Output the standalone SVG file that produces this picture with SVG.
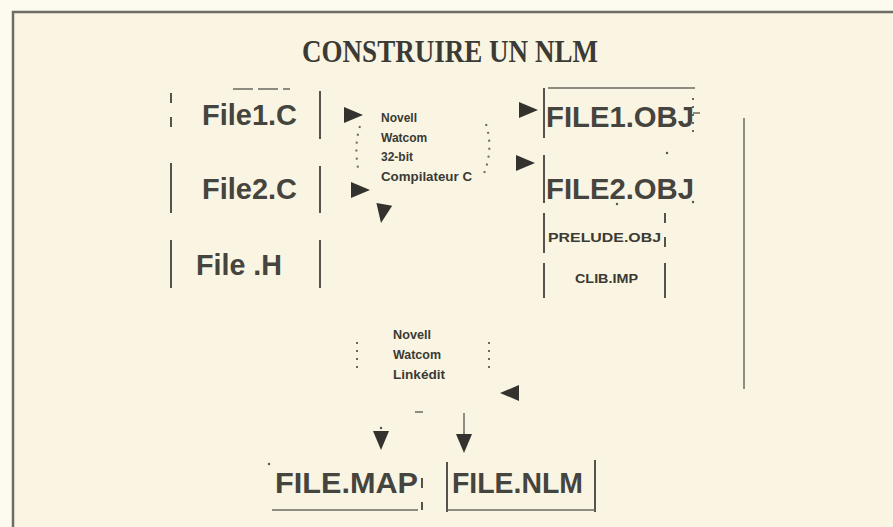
<svg xmlns="http://www.w3.org/2000/svg" width="893" height="527" viewBox="0 0 893 527">
<style>
.bg{fill:#faf5e2}
.frame{stroke:#6e6c64;stroke-width:2.5;fill:none}
.big{font-family:"Liberation Sans",Arial,sans-serif;font-size:29px;font-weight:bold;fill:#45443e}
.small{font-family:"Liberation Sans",Arial,sans-serif;font-size:12px;font-weight:bold;fill:#3b3a35}
.title{font-family:"Liberation Serif","Times New Roman",serif;font-size:32px;font-weight:bold;fill:#3b3a35}
.bar{stroke:#55534c;stroke-width:2;fill:none}
.thin{stroke:#6a6860;stroke-width:1.5;fill:none}
.dot{stroke:#6a6860;stroke-width:2;fill:none;stroke-dasharray:2 6}
.dash{stroke:#55534c;stroke-width:2;fill:none;stroke-dasharray:10 14}
.ah{fill:#33322e}
</style>
<defs>
<path id="arrow" d="M0,0 L-19,-8 L-19,8 Z"/>
</defs>
<rect width="893" height="527" fill="#fdfbef"/>
<rect x="13" y="12" width="880" height="515" class="bg"/>
<path class="frame" d="M13,527 V12 H893"/>
<text class="title" x="450" y="62" text-anchor="middle" textLength="296" lengthAdjust="spacingAndGlyphs">CONSTRUIRE UN NLM</text>

<g id="file1c">
<path class="dash" d="M171,93 V139"/>
<path class="bar" d="M320,91 V139"/>
<path class="thin" d="M233,89 H290" stroke-dasharray="20 5"/>
<text class="big" x="202" y="125" textLength="95" lengthAdjust="spacingAndGlyphs">File1.C</text>
</g>
<g id="file2c">
<path class="bar" d="M171,163 V213"/>
<path class="bar" d="M320,166 V213"/>
<text class="big" x="202" y="199" textLength="95" lengthAdjust="spacingAndGlyphs">File2.C</text>
</g>
<g id="fileh">
<path class="bar" d="M171,240 V288"/>
<path class="bar" d="M320,240 V288"/>
<text class="big" x="196" y="275" textLength="86" lengthAdjust="spacingAndGlyphs">File .H</text>
</g>

<g id="compiler">
<path class="dot" d="M360,126 Q354,145 358,168"/>
<path class="dot" d="M486,124 Q494,150 483,176"/>
<text class="small" x="381" y="122">Novell</text>
<text class="small" x="381" y="142">Watcom</text>
<text class="small" x="381" y="161">32-bit</text>
<text class="small" x="381" y="181" textLength="91" lengthAdjust="spacingAndGlyphs">Compilateur C</text>
</g>

<g id="file1obj">
<path class="bar" d="M544,88 V138"/>
<path class="thin" d="M548,88 H695"/>
<path class="dot" d="M693,98 V138" stroke-dasharray="2 4"/>
<path class="thin" d="M693,113 H700"/>
<text class="big" x="546" y="127" textLength="148" lengthAdjust="spacingAndGlyphs">FILE1.OBJ</text>
</g>
<g id="file2obj">
<path class="bar" d="M544,155 V203"/>
<circle cx="667" cy="153" r="1.2" fill="#55534c"/>
<circle cx="617" cy="204" r="1.2" fill="#55534c"/>
<circle cx="693" cy="202" r="1.2" fill="#55534c"/>
<text class="big" x="546" y="199" textLength="148" lengthAdjust="spacingAndGlyphs">FILE2.OBJ</text>
</g>
<g id="preludeobj">
<path class="bar" d="M544,213 V253"/>
<path class="dash" d="M665,213 V252" stroke-dasharray="14 4"/>
<text class="small" x="548" y="242" textLength="113" lengthAdjust="spacingAndGlyphs">PRELUDE.OBJ</text>
</g>
<g id="clibimp">
<path class="bar" d="M544,263 V298"/>
<path class="bar" d="M665,263 V298"/>
<text class="small" x="575" y="283" textLength="63" lengthAdjust="spacingAndGlyphs">CLIB.IMP</text>
</g>

<g id="linker">
<path class="dot" d="M357,342 V372" stroke-dasharray="2 5"/>
<path class="dot" d="M489,342 V373" stroke-dasharray="2 5"/>
<text class="small" x="393" y="339" textLength="38" lengthAdjust="spacingAndGlyphs">Novell</text>
<text class="small" x="393" y="359" textLength="48" lengthAdjust="spacingAndGlyphs">Watcom</text>
<text class="small" x="393" y="379" textLength="52" lengthAdjust="spacingAndGlyphs">Linkédit</text>
</g>

<g id="filemap">
<circle cx="269" cy="464" r="1.2" fill="#55534c"/>
<path class="thin" d="M272,510 H418"/>
<path class="dash" d="M422,478 V510" stroke-dasharray="20 6"/>
<text class="big" x="275" y="493" font-size="27" textLength="143" lengthAdjust="spacingAndGlyphs">FILE.MAP</text>
</g>
<g id="filenlm">
<path class="bar" d="M447,462 V512"/>
<path class="bar" d="M595,460 V512"/>
<path class="thin" d="M447,510 H595"/>
<text class="big" x="452" y="493" font-size="27" textLength="131" lengthAdjust="spacingAndGlyphs">FILE.NLM</text>
</g>

<g id="connectors">
<path class="thin" d="M744,118 V389"/>
<use href="#arrow" class="ah" transform="translate(363,115)"/>
<use href="#arrow" class="ah" transform="translate(370,190)"/>
<use href="#arrow" class="ah" transform="translate(381,223) rotate(100)"/>
<use href="#arrow" class="ah" transform="translate(538,110)"/>
<use href="#arrow" class="ah" transform="translate(535,163)"/>
<use href="#arrow" class="ah" transform="translate(500,393) rotate(180)"/>
<path class="thin" d="M415,412 H423"/>
<circle cx="381" cy="428" r="1.2" fill="#55534c"/>
<use href="#arrow" class="ah" transform="translate(381,450) rotate(90)"/>
<path class="thin" d="M464,413 V440"/>
<use href="#arrow" class="ah" transform="translate(464,453) rotate(90)"/>
</g>
</svg>
